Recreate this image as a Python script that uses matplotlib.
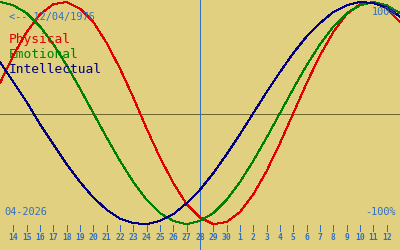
#!/usr/bin/python
# -*- coding: utf-8 -*-

import matplotlib
matplotlib.use('Agg')
import matplotlib.pyplot as plt
import matplotlib.transforms as mtransforms


# day offsets from today (28/04/2026), -15 .. 15
offsets = list(range(-15, 16))

physical = [0.27, 0.52, 0.73, 0.89, 0.98, 1.00, 0.94, 0.82, 0.63, 0.40, 0.14,
            -0.14, -0.40, -0.63, -0.82, -0.94, -1.00, -0.98, -0.89, -0.73, -0.52,
            -0.27, 0.00, 0.27, 0.52, 0.73, 0.89, 0.98, 1.00, 0.94, 0.82]
emotional = [1.00, 0.97, 0.90, 0.78, 0.62, 0.43, 0.22, 0.00, -0.22, -0.43, -0.62,
             -0.78, -0.90, -0.97, -1.00, -0.97, -0.90, -0.78, -0.62, -0.43, -0.22,
             0.00, 0.22, 0.43, 0.62, 0.78, 0.90, 0.97, 1.00, 0.97, 0.90]
intellectual = [0.46, 0.28, 0.10, -0.10, -0.28, -0.46, -0.62, -0.76, -0.87, -0.95, -0.99,
                -1.00, -0.97, -0.91, -0.81, -0.69, -0.54, -0.37, -0.19, 0.00, 0.19,
                0.37, 0.54, 0.69, 0.81, 0.91, 0.97, 1.00, 0.99, 0.95, 0.87]

# tick labels: day of month, 14/04 .. 12/05
day_offsets = list(range(-14, 15))
day_labels = [str(d) for d in range(14, 31)] + [str(d) for d in range(1, 13)]

birth_label = '<-- 12/04/1976'
month_label = '04-2026'

bg = '#e0d080'
txtblue = '#2f6fc4'
px1 = 0.72  # one pixel at 100 dpi

fig = plt.figure(figsize=(4, 2.5), dpi=100, facecolor=bg)
ax = fig.add_axes([0, 0, 1, 1])
ax.set_facecolor(bg)
ax.set_xlim(-15, 15)
ax.set_ylim(1 - 250 / 112.0, 1 + 2 / 112.0)
ax.axis('off')

ax.axhline(-0.01, color='#6e6630', lw=px1, antialiased=False)
ax.axvline(0, color=txtblue, lw=px1, antialiased=False)

ax.plot(offsets, physical, color='#e00000', lw=px1, antialiased=False)
ax.plot(offsets, emotional, color='#008000', lw=px1, antialiased=False)
ax.plot(offsets, intellectual, color='#000080', lw=px1, antialiased=False)

# day ticks along the bottom
trans = mtransforms.blended_transform_factory(ax.transData, ax.transAxes)
ax.vlines(day_offsets, 0.076, 0.1, color=txtblue, lw=px1, transform=trans, antialiased=False)
for d, lab in zip(day_offsets, day_labels):
    ax.text(d, 0.048, lab, transform=trans, ha='center', va='center',
            fontsize=5.8, fontweight='bold', color=txtblue, family='DejaVu Sans Mono')

def px(x, y):
    return x / 400.0, 1 - y / 250.0

mono = 'DejaVu Sans Mono'
fig.text(*px(9, 17), birth_label, ha='left', va='center', fontsize=7.4, color=txtblue, family=mono)
fig.text(*px(396, 12), '100%', ha='right', va='center', fontsize=7.4, color=txtblue, family=mono)
fig.text(*px(396, 212), '-100%', ha='right', va='center', fontsize=7.4, color=txtblue, family=mono)
fig.text(*px(4, 212), month_label, ha='left', va='center', fontsize=7.4, color=txtblue, family=mono)

fig.text(*px(9, 43), 'Physical', ha='left', va='baseline', fontsize=9.3, color='#e00000', family=mono)
fig.text(*px(9, 58), 'Emotional', ha='left', va='baseline', fontsize=9.3, color='#008000', family=mono)
fig.text(*px(9, 73), 'Intellectual', ha='left', va='baseline', fontsize=9.3, color='#000080', family=mono)

plt.savefig('out.png', dpi=100, facecolor=bg)
